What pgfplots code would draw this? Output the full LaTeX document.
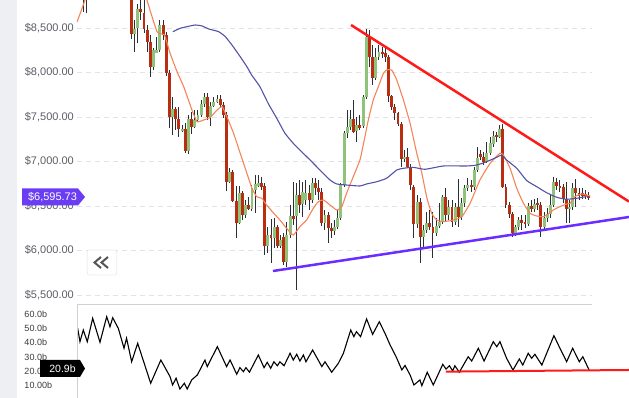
\documentclass[border=0pt]{standalone}
\usepackage{pgfplots}
\pgfplotsset{compat=1.18}
\usepackage{pgfplotstable}
\usepackage{fontspec}
\setmainfont{Liberation Sans}
\definecolor{candleup}{HTML}{8FC27A}
\definecolor{candledn}{HTML}{B92E10}
\definecolor{wick}{HTML}{2B2F33}
\definecolor{ema}{HTML}{F4845A}
\definecolor{sma}{HTML}{5252A6}
\definecolor{tlred}{HTML}{FF1A1A}
\definecolor{tlpurple}{HTML}{6A2CFF}
\definecolor{gridc}{HTML}{E2E2E8}
\definecolor{labgray}{HTML}{5C5C66}
\definecolor{lab2}{HTML}{3A3A3A}
\definecolor{stripc}{HTML}{EEEFF3}
\definecolor{pricebox}{HTML}{6A3CF3}
\definecolor{sepc}{HTML}{CFCFD4}
\definecolor{btnc}{HTML}{555555}
\pgfplotstableread{
i o h l c
0 8927 9264 8680 9096
1 9150 9250 8670 9050
2 9050 9300 8950 9180
3 9180 9380 9100 9300
4 9300 9420 9180 9250
5 9250 9480 9200 9400
6 9400 9500 9280 9350
7 9350 9600 9300 9500
8 9500 9580 9350 9420
9 9420 9480 9250 9300
10 9300 9450 9200 9380
11 9380 9420 9150 9200
12 9200 9320 9100 9250
13 9250 9300 9000 9100
14 9100 9150 8880 8950
15 8950 9040 8373 8430
16 8430 8590 8234 8489
17 8497 8770 8332 8714
18 8714 8850 8590 8677
19 8666 8871 8444 8486
20 8478 8534 8234 8346
21 8340 8422 7950 8066
22 8066 8276 8028 8253
23 8223 8399 8220 8253
24 8253 8590 8231 8534
25 8534 8590 8366 8422
26 8422 8455 7961 7998
27 7998 8028 7377 7504
28 7504 7725 7298 7590
29 7590 7613 7354 7478
30 7478 7613 7276 7362
31 7343 7410 7332 7366
32 7362 7433 7096 7122
33 7122 7523 7085 7478
34 7478 7557 7309 7391
35 7391 7579 7377 7467
36 7467 7579 7455 7523
37 7523 7691 7500 7646
38 7646 7770 7613 7725
39 7722 7770 7467 7504
40 7504 7669 7399 7624
41 7624 7725 7613 7672
42 7672 7748 7658 7699
43 7703 7748 7613 7632
44 7632 7669 7489 7523
45 7523 7557 6672 6773
46 6773 6927 6759 6886
47 6886 6905 6545 6560
48 6560 6725 6144 6313
49 6313 6725 6298 6643
50 6643 6669 6343 6399
51 6399 6568 6366 6511
52 6511 6602 6455 6463
53 6463 6736 6444 6703
54 6680 6849 6422 6748
55 6725 6849 6714 6759
56 6762 6826 6680 6717
57 6725 6759 5950 6051
58 6051 6264 5972 6175
59 6175 6354 5860 6144
60 6144 6366 6028 6261
61 6261 6287 6028 6051
62 6051 6175 6028 6118
63 6152 6197 5837 5875
64 5875 6321 5815 6175
65 6175 6512 6141 6388
66 6388 6770 6287 6351
67 6388 6759 5557 6624
68 6624 6792 6422 6511
69 6523 6770 6377 6658
70 6568 6792 6512 6647
71 6647 6736 6455 6568
72 6568 6815 6534 6759
73 6759 6815 6624 6703
74 6703 6792 6568 6658
75 6658 6703 6276 6313
76 6313 6455 6231 6399
77 6399 6433 6085 6250
78 6253 6309 6141 6220
79 6220 6343 6175 6265
80 6265 6455 6242 6366
81 6362 6759 6343 6736
82 6736 7343 6714 7324
83 7324 7579 7264 7388
84 7388 7579 7354 7475
85 7475 7691 7321 7335
86 7343 7500 7219 7410
87 7410 7523 7354 7380
88 7399 7748 7377 7722
89 7722 8489 7703 8403
90 8403 8478 8062 8171
91 8171 8309 7860 7942
92 7942 8276 7916 8178
93 8178 8309 8141 8227
94 8227 8287 8163 8205
95 8216 8276 8118 8178
96 8171 8197 7669 7740
97 7736 7748 7579 7616
98 7616 7646 7467 7542
99 7542 7557 7399 7422
100 7422 7444 6939 7025
101 7025 7130 6995 7048
102 7051 7152 6927 6942
103 6942 6972 6680 6736
104 6717 6736 6141 6298
105 6298 6624 6253 6549
106 6549 6590 5863 6155
107 6155 6287 6040 6231
108 6231 6433 6197 6313
109 6313 6455 6231 6268
110 6268 6436 5916 6200
111 6200 6366 6163 6276
112 6276 6534 6253 6324
113 6324 6624 6298 6598
114 6598 6703 6321 6399
115 6399 6568 6343 6486
116 6486 6568 6264 6324
117 6324 6534 6287 6486
118 6486 6804 6268 6373
119 6373 6590 6343 6531
120 6534 6736 6489 6703
121 6703 6815 6669 6736
122 6736 6792 6658 6711
123 6711 6939 6680 6905
124 6905 7163 6882 7040
125 7085 7130 7017 7048
126 7051 7107 6961 6998
127 6998 7219 6984 7096
128 7096 7276 7073 7208
129 7197 7343 7163 7287
130 7298 7335 7223 7272
131 7272 7411 7264 7362
132 7362 7422 6703 6717
133 6717 6748 6478 6511
134 6511 6545 6366 6411
135 6411 6433 6152 6200
136 6200 6287 6163 6261
137 6261 6377 6231 6343
138 6343 6399 6231 6306
139 6321 6399 6253 6298
140 6298 6534 6276 6500
141 6500 6568 6433 6467
142 6467 6579 6433 6523
143 6534 6590 6455 6511
144 6511 6545 6156 6261
145 6261 6433 6231 6362
146 6362 6478 6321 6411
147 6411 6624 6366 6511
148 6511 6826 6489 6767
149 6767 6815 6680 6728
150 6728 6792 6658 6711
151 6711 6748 6534 6576
152 6576 6770 6309 6463
153 6463 6568 6309 6493
154 6493 6759 6455 6699
155 6699 6804 6489 6647
156 6650 6703 6568 6613
157 6647 6703 6579 6613
158 6635 6680 6579 6613
159 6613 6658 6568 6595.73
}\candles
\begin{document}
\begin{tikzpicture}[x=1pt,y=1pt]
\useasboundingbox (0,0) rectangle (629,398);
\fill[stripc] (0,0) rectangle (16.5,398);
\begin{axis}[
  at={(77pt,93.7pt)}, anchor=south west,
  width=552pt, height=304.3pt, scale only axis,
  xmin=-2.11, xmax=171.75, ymin=5396, ymax=8815,
  axis line style={draw=none}, tick style={draw=none}, major tick length=0pt,
  xtick=\empty,
  ytick={5500,6000,6500,7000,7500,8000,8500},
  yticklabels={{\$5,500.00},{\$6,000.00},{\$6,500.00},{\$7,000.00},{\$7,500.00},{\$8,000.00},{\$8,500.00}},
  yticklabel style={anchor=east, xshift=-3pt, inner sep=0pt, font=\fontsize{11}{13}\selectfont, text=labgray},
]
\draw[gridc, line width=1pt, dash pattern=on 5pt off 4pt] (axis cs:-2.11,5500) -- (axis cs:160.1,5500);
\draw[gridc, line width=1pt, dash pattern=on 5pt off 4pt] (axis cs:-2.11,6000) -- (axis cs:160.1,6000);
\draw[gridc, line width=1pt, dash pattern=on 5pt off 4pt] (axis cs:-2.11,6500) -- (axis cs:160.1,6500);
\draw[gridc, line width=1pt, dash pattern=on 5pt off 4pt] (axis cs:-2.11,7000) -- (axis cs:160.1,7000);
\draw[gridc, line width=1pt, dash pattern=on 5pt off 4pt] (axis cs:-2.11,7500) -- (axis cs:160.1,7500);
\draw[gridc, line width=1pt, dash pattern=on 5pt off 4pt] (axis cs:-2.11,8000) -- (axis cs:160.1,8000);
\draw[gridc, line width=1pt, dash pattern=on 5pt off 4pt] (axis cs:-2.11,8500) -- (axis cs:160.1,8500);
% wicks
\addplot[forget plot, draw=none, error bars/.cd, y dir=both, y explicit, error mark=none,
  error bar style={draw=wick, line width=1pt}]
  table[x=i, y expr={(\thisrow{h}+\thisrow{l})/2}, y error expr={(\thisrow{h}-\thisrow{l})/2}] {\candles};
% up bodies
\addplot[forget plot, draw=none, restrict expr to domain={\thisrow{c}-\thisrow{o}}{0:100000},
  error bars/.cd, y dir=both, y explicit, error mark=none,
  error bar style={draw=candleup, line width=2.9pt}]
  table[x=i, y expr={(\thisrow{o}+\thisrow{c})/2}, y error expr={max(abs(\thisrow{c}-\thisrow{o})/2,6)}] {\candles};
% down bodies
\addplot[forget plot, draw=none, restrict expr to domain={\thisrow{c}-\thisrow{o}}{-100000:-0.001},
  error bars/.cd, y dir=both, y explicit, error mark=none,
  error bar style={draw=candledn, line width=2.9pt}]
  table[x=i, y expr={(\thisrow{o}+\thisrow{c})/2}, y error expr={max(abs(\thisrow{c}-\thisrow{o})/2,6)}] {\candles};
% EMA
\addplot[ema, line width=1.1pt, smooth, tension=0.3] coordinates {
(-2.1,8568) (0.4,8815) (2,9050) (5,9300) (10,9400) (15,9250) (18,9000) (19.9,8815)
(23.1,8459) (25.4,8422) (27.2,8219) (29.4,8009) (31.5,7841) (34.1,7579) (35.7,7448)
(37.8,7467) (39.9,7497) (42.0,7579) (43.6,7616) (45.1,7504) (47.2,7317) (49.3,7093)
(51.4,6868) (53.0,6699) (54.5,6605) (56.1,6587) (57.6,6512) (59.7,6425) (61.8,6343)
(63.9,6250) (66.0,6175) (68.1,6268) (70.2,6343) (72.3,6474) (73.9,6549) (75.5,6568)
(77.6,6512) (79.7,6455) (81.3,6493) (82.8,6643) (84.9,6830) (87.0,7017) (88.3,7230)
(89.6,7460) (91.2,7691) (92.8,7841) (94.4,7991) (95.4,8028) (97.0,8028) (98.6,7916)
(100.7,7691) (102.8,7430) (104.9,7093) (106.5,6868) (108.1,6590) (109.6,6418)
(111.2,6343) (113.3,6324) (116.4,6343) (119.1,6380) (121.7,6531) (124.8,6792)
(128.0,6980) (131.1,7093) (132.2,7073) (134.3,6924) (136.4,6699) (138.5,6531)
(140.6,6418) (142.7,6388) (144.8,6380) (146.3,6411) (147.9,6455) (150.0,6493)
(152.1,6523) (153.2,6531) (154.7,6605) (156.9,6636) (159.5,6613)};
% SMA
\addplot[sma, line width=1.1pt, smooth, tension=0.3] coordinates {
(28.1,8459) (30.4,8497) (32.5,8515) (35.1,8534) (37.3,8523) (39.4,8489) (42.5,8459)
(44.6,8403) (46.7,8309) (49.3,8178) (51.4,8066) (52.9,7972) (55.5,7841) (58.1,7654)
(60.8,7486) (63.4,7317) (66.0,7205) (68.1,7129) (71.3,7017) (74.4,6905) (77.6,6792)
(79.7,6748) (82.8,6736) (87.0,6725) (89.1,6748) (92.3,6773) (95.4,6812) (98.6,6905)
(100.7,6924) (103.8,6935) (107.5,6913) (113.3,6950) (120.6,6950) (123.8,6961)
(126.9,6998) (130.1,7048) (131.7,7073) (133.2,7017) (136.4,6924) (139.5,6787)
(142.7,6717) (145.8,6650) (149.0,6598) (152.1,6576) (155.3,6587) (158.4,6607)};
% trendlines
\addplot[tlred, line width=2.5pt] coordinates {(84.2,8534) (171.75,6550)};
\addplot[tlpurple, line width=2.5pt] coordinates {(59.6,5770) (171.75,6377)};
\end{axis}
\begin{axis}[
  at={(77pt,0pt)}, anchor=south west,
  width=552pt, height=93.7pt, scale only axis,
  xmin=-2.11, xmax=171.75, ymin=1.42, ymax=66.76,
  axis line style={draw=none}, tick style={draw=none}, major tick length=0pt,
  xtick=\empty,
  ytick={10,20,30,40,50,60},
  yticklabels={10.00b,20.0b,30.0b,40.0b,50.0b,60.0b},
  yticklabel style={anchor=west, xshift=-52.7pt, inner sep=0pt, font=\fontsize{9}{11}\selectfont, text=lab2},
]
\addplot[black, line width=1.1pt] coordinates {
(-1.9,50.0) (-1.17,40.7) (-0.13,48.8) (1.13,40.7) (2.83,57.0) (5.13,40.3) (7.24,58.1)
(8.28,51.1) (9.13,57.4) (10.9,50.0) (12.7,36.1) (13.5,43.1) (15.1,26.7) (17.0,39.6)
(21.1,11.7) (24.3,27.9) (27.2,16.3) (28.0,10.5) (29.1,15.2) (30.3,7.7) (31.7,11.7)
(32.6,7.7) (34.0,14.0) (35.8,17.5) (38.2,27.9) (38.9,23.3) (42.1,37.2) (45.0,23.3)
(46.1,27.9) (48.2,18.0) (49.2,22.6) (50.3,19.8) (51.1,22.6) (52.2,19.4) (55.0,31.4)
(56.8,22.6) (57.8,26.3) (58.9,22.1) (59.9,26.7) (61.0,23.9) (61.8,26.7) (63.1,23.9)
(65.0,32.6) (66.0,27.9) (67.1,31.9) (68.1,27.2) (69.2,31.4) (70.0,26.7) (72.1,34.9)
(75.0,23.3) (76.0,26.7) (78.1,19.4) (80.2,25.6) (81.8,32.6) (84.1,48.8) (85.1,44.2)
(85.9,47.7) (87.2,44.2) (89.1,56.5) (91.0,45.8) (93.1,54.6) (94.9,46.5) (96.5,38.4)
(98.4,30.2) (100.2,21.0) (101.2,24.1) (102.8,17.5) (104.0,10.5) (105.9,14.0) (106.5,10.0)
(108.2,19.4) (110.1,10.5) (113.1,24.9) (114.1,21.6) (115.2,23.9) (116.2,20.3) (116.9,23.9)
(118.3,19.4) (121.1,30.2) (122.2,27.2) (124.3,36.1) (126.1,27.2) (129.0,40.7) (130.1,37.2)
(131.1,40.7) (133.2,29.1) (135.2,20.9) (137.2,28.6) (138.3,24.4) (140.0,32.6) (141.1,29.1)
(142.1,31.9) (144.3,24.4) (148.1,44.9) (150.0,36.1) (152.1,26.7) (154.0,36.1) (156.1,26.7)
(157.2,30.2) (159.2,20.9)};
\addplot[tlred, line width=2pt] coordinates {(114.1,19.8) (171.75,20.95)};
\end{axis}
\draw[sepc, line width=1pt] (77,93.7) -- (592,93.7);
\draw[sepc, line width=0.8pt] (77.7,0) -- (77.7,93.7);
\filldraw[fill=white, draw=black!8, line width=0.8pt, rounded corners=2pt] (87.3,123) rectangle (116.7,148);
\draw[btnc, line width=2pt] (101,141) -- (94.5,135.5) -- (101,130);
\draw[btnc, line width=2pt] (108,141) -- (101.5,135.5) -- (108,130);
\fill[pricebox] (22,192.5) -- (78,192.5) -- (85,201) -- (78,209.5) -- (22,209.5) -- cycle;
\node[text=white, font=\fontsize{11}{13}\selectfont, inner sep=0pt] at (52.5,201) {\$6,595.73};
\fill[black] (40,21) -- (80,21) -- (85,29.5) -- (80,38) -- (40,38) -- cycle;
\node[text=white, font=\fontsize{10.5}{12}\selectfont, inner sep=0pt] at (62.5,29.5) {20.9b};
\end{tikzpicture}
\end{document}
